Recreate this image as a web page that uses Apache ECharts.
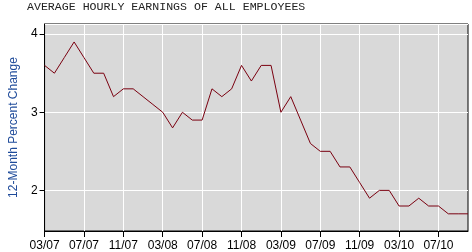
<!DOCTYPE html>
<html>
<head>
<meta charset="utf-8">
<script src="https://cdn.jsdelivr.net/npm/echarts@6/dist/echarts.min.js"></script>
<style>
  html, body { margin: 0; padding: 0; background: #fff; }
  #main { width: 472px; height: 252px; }
</style>
</head>
<body>
<div id="main"></div>
<script>
// monthly, 03/07 .. 10/10
var months = [
  "03/07","04/07","05/07","06/07","07/07","08/07","09/07","10/07","11/07","12/07",
  "01/08","02/08","03/08","04/08","05/08","06/08","07/08","08/08","09/08","10/08","11/08","12/08",
  "01/09","02/09","03/09","04/09","05/09","06/09","07/09","08/09","09/09","10/09","11/09","12/09",
  "01/10","02/10","03/10","04/10","05/10","06/10","07/10","08/10","09/10","10/10"
];
var pctChange = [
  3.6, 3.5, 3.7, 3.9, 3.7, 3.5, 3.5, 3.2, 3.3, 3.3,
  3.2, 3.1, 3.0, 2.8, 3.0, 2.9, 2.9, 3.3, 3.2, 3.3, 3.6, 3.4,
  3.6, 3.6, 3.0, 3.2, 2.9, 2.6, 2.5, 2.5, 2.3, 2.3, 2.1, 1.9,
  2.0, 2.0, 1.8, 1.8, 1.9, 1.8, 1.8, 1.7, 1.7, 1.7
];
var yTicks = [2, 3, 4];

var chart = echarts.init(document.getElementById('main'));
var option = {
  animation: false,
  title: {
    text: 'AVERAGE HOURLY EARNINGS OF ALL EMPLOYEES',
    left: 27,
    top: 1,
    padding: 0,
    textStyle: {
      fontFamily: 'Liberation Mono',
      fontSize: 11.6,
      fontWeight: 'normal',
      color: '#222'
    }
  },
  grid: {
    left: 33, right: 4, top: 24, bottom: 21,
    show: true,
    backgroundColor: '#d9d9d9',
    borderColor: '#000',
    borderWidth: 1
  },
  xAxis: {
    type: 'category',
    data: months,
    boundaryGap: false,
    axisLine: { lineStyle: { color: '#000' } },
    axisTick: { interval: 3, length: 6, lineStyle: { color: '#000' } },
    axisLabel: {
      interval: 3,
      margin: 9,
      fontFamily: 'Liberation Sans',
      fontSize: 12,
      color: '#000'
    },
    splitLine: { show: true, interval: 3, lineStyle: { color: '#fff', width: 1 } }
  },
  yAxis: {
    type: 'value',
    min: 1.48,
    max: 4.13,
    minInterval: 1,
    maxInterval: 1,
    name: '12-Month Percent Change',
    nameLocation: 'middle',
    nameGap: 22,
    nameTextStyle: {
      fontFamily: 'Liberation Sans',
      fontSize: 12,
      color: '#1f4b9a'
    },
    axisLine: { show: true, lineStyle: { color: '#000' } },
    axisTick: { show: true, length: 5, lineStyle: { color: '#000' } },
    axisLabel: {
      margin: 7,
      fontFamily: 'Liberation Sans',
      fontSize: 12,
      color: '#000',
      showMinLabel: false,
      showMaxLabel: false,
      formatter: function (v) { return yTicks.indexOf(v) >= 0 ? String(v) : ''; }
    },
    splitLine: { show: true, lineStyle: { color: '#fff', width: 1 } }
  },
  series: [{
    type: 'line',
    data: pctChange,
    showSymbol: false,
    lineStyle: { color: '#7a0010', width: 1 },
    itemStyle: { color: '#7a0010' }
  }]
};
chart.setOption(option);
</script>
</body>
</html>
